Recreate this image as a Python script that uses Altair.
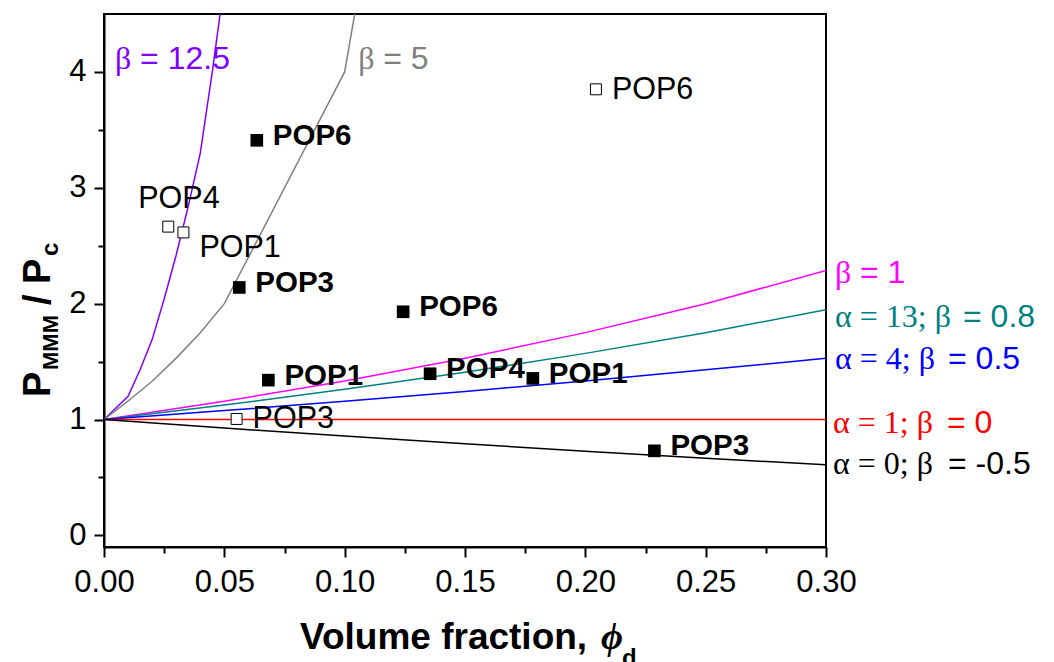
import altair as alt
import pandas as pd

# ---------------- data ----------------
# model curves
x_b125 = [0, 0.01, 0.015, 0.02, 0.025, 0.03, 0.035, 0.04, 0.045, 0.05]
y_b125 = [1, 1.2, 1.43, 1.69, 2.04, 2.42, 2.84, 3.3, 4.0, 4.77]
x_b5 = [0, 0.01, 0.02, 0.03, 0.04, 0.05, 0.10, 0.15]
y_b5 = [1, 1.16, 1.33, 1.53, 1.75, 2.0, 4.0, 10.0]
x_grid = [0, 0.05, 0.10, 0.15, 0.20, 0.25, 0.30]
y_b1 = [1, 1.158, 1.333, 1.529, 1.75, 2.0, 2.286]
y_b08 = [1, 1.125, 1.261, 1.409, 1.571, 1.75, 1.947]
y_b05 = [1, 1.077, 1.158, 1.243, 1.333, 1.429, 1.529]
y_b0 = [1, 1, 1, 1, 1, 1, 1]
y_bm05 = [1, 0.927, 0.857, 0.791, 0.727, 0.667, 0.609]

series_names = ["b12.5", "b5", "b1", "b0.8", "b0.5", "b0", "b-0.5"]
series_colors = ["#8000FF", "#808080", "#FF00FF", "#008080", "#0000FF", "#FF0000", "#000000"]
series_x = [x_b125, x_b5, x_grid, x_grid, x_grid, x_grid, x_grid]
series_y = [y_b125, y_b5, y_b1, y_b08, y_b05, y_b0, y_bm05]

# measured points
filled_x = [0.0635, 0.0562, 0.1243, 0.0683, 0.1355, 0.1782, 0.2287]
filled_y = [3.41, 2.14, 1.93, 1.34, 1.395, 1.355, 0.73]
filled_lab = ["POP6", "POP3", "POP6", "POP1", "POP4", "POP1", "POP3"]
open_x = [0.2044, 0.0267, 0.0330, 0.0551]
open_y = [3.85, 2.665, 2.615, 1.005]
open_lab = ["POP6", "POP4", "POP1", "POP3"]

# curve labels: (serif part, sans part)
right_serif = ["β", "α = 13; β", "α = 4; β", "α = 1; β", "α = 0; β"]
right_sans = ["= 1", "= 0.8", "= 0.5", "= 0", "= -0.5"]
right_series = [2, 3, 4, 5, 6]
top_serif = ["β", "β"]
top_sans = ["= 12.5", "= 5"]
top_series = [0, 1]
top_x = [0.0046, 0.1056]
top_y = [4.025, 4.025]

x_ticks = [round(i * 0.025, 3) for i in range(13)]
y_ticks = [i * 0.5 for i in range(9)]

# ---------------- styles ----------------
right_dx_serif = [9, 9, 9, 7, 7]
right_dx_sans = [34, 137, 122, 121, 122]
right_dy = [12, 17.6, 11, 13, 9]
open_dx = [16, -30, 16, 16]
open_dy = [10, -19, 25, 9]

W, H = 722, 533
SANS = "Liberation Sans"
SERIF = "Liberation Serif"
TICK_FS = 31
POP_FS = 29.5
LAB_SANS_FS = 32
LAB_SERIF_FS = 32

rows = []
for name, xs, ys in zip(series_names, series_x, series_y):
    for i, (xv, yv) in enumerate(zip(xs, ys)):
        rows.append({"series": name, "x": xv, "y": yv, "o": i})
lines_df = pd.DataFrame(rows)

xscale = alt.Scale(domain=[0, 0.30], nice=False, zero=False)
yscale = alt.Scale(domain=[-0.1, 4.5], nice=False, zero=False)

x_axis = alt.Axis(
    values=x_ticks, title=None, grid=False,
    labelExpr="abs(datum.value*20 - round(datum.value*20)) < 1e-6 ? format(datum.value, '.2f') : ''",
    tickSize={"condition": {"test": "abs(datum.value*20 - round(datum.value*20)) < 1e-6", "value": 10}, "value": 6},
    labelFontSize=TICK_FS, labelFont=SANS, labelColor="black", labelPadding=10,
    domainColor="black", domainWidth=2, tickColor="black", tickWidth=2,
    labelFlush=False, labelOverlap=False,
)
y_axis = alt.Axis(
    values=y_ticks, title=None, grid=False,
    labelExpr="abs(datum.value - round(datum.value)) < 1e-6 ? format(datum.value, 'd') : ''",
    tickSize={"condition": {"test": "abs(datum.value - round(datum.value)) < 1e-6", "value": 10}, "value": 6},
    labelFontSize=TICK_FS, labelFont=SANS, labelColor="black", labelPadding=8,
    domainColor="black", domainWidth=2, tickColor="black", tickWidth=2,
    labelFlush=False, labelOverlap=False,
)

lines = alt.Chart(lines_df).mark_line(clip=True, strokeWidth=1.5).encode(
    x=alt.X("x:Q", scale=xscale, axis=x_axis),
    y=alt.Y("y:Q", scale=yscale, axis=y_axis),
    color=alt.Color("series:N", scale=alt.Scale(domain=series_names, range=series_colors), legend=None),
    order="o:Q",
)

fdf = pd.DataFrame({"x": filled_x, "y": filled_y, "lab": filled_lab})
odf = pd.DataFrame({"x": open_x, "y": open_y, "lab": open_lab})

filled_pts = alt.Chart(fdf).mark_square(size=160, color="black", opacity=1).encode(
    x=alt.X("x:Q", scale=xscale), y=alt.Y("y:Q", scale=yscale))
open_pts = alt.Chart(odf).mark_square(size=120, fill="white", stroke="black", strokeWidth=1, opacity=1, filled=True).encode(
    x=alt.X("x:Q", scale=xscale), y=alt.Y("y:Q", scale=yscale))

filled_txt = alt.Chart(fdf).mark_text(
    align="left", baseline="alphabetic", dx=16, dy=4.5, font=SANS, fontSize=POP_FS, fontWeight="bold", color="black"
).encode(x=alt.X("x:Q", scale=xscale), y=alt.Y("y:Q", scale=yscale), text="lab:N")

layers = [lines, filled_pts, open_pts, filled_txt]

for i in range(len(open_x)):
    d = pd.DataFrame({"x": [open_x[i]], "y": [open_y[i]], "lab": [open_lab[i]]})
    layers.append(alt.Chart(d).mark_text(
        align="left", baseline="alphabetic", dx=open_dx[i], dy=open_dy[i], font=SANS, fontSize=POP_FS + 1, color="black"
    ).encode(x=alt.X("x:Q", scale=xscale), y=alt.Y("y:Q", scale=yscale), text="lab:N"))

for i, si in enumerate(right_series):
    d = pd.DataFrame({"x": [series_x[si][-1]], "y": [series_y[si][-1]],
                      "a": [right_serif[i]], "b": [right_sans[i]]})
    col = series_colors[si]
    layers.append(alt.Chart(d).mark_text(
        align="left", baseline="alphabetic", dx=right_dx_serif[i], dy=right_dy[i], font=SERIF,
        fontSize=LAB_SERIF_FS, color=col
    ).encode(x=alt.X("x:Q", scale=xscale), y=alt.Y("y:Q", scale=yscale), text="a:N"))
    layers.append(alt.Chart(d).mark_text(
        align="left", baseline="alphabetic", dx=right_dx_sans[i], dy=right_dy[i], font=SANS,
        fontSize=LAB_SANS_FS, color=col
    ).encode(x=alt.X("x:Q", scale=xscale), y=alt.Y("y:Q", scale=yscale), text="b:N"))

for i, si in enumerate(top_series):
    d = pd.DataFrame({"x": [top_x[i]], "y": [top_y[i]], "a": [top_serif[i]], "b": [top_sans[i]]})
    col = series_colors[si]
    layers.append(alt.Chart(d).mark_text(
        align="left", baseline="alphabetic", dx=0, font=SERIF, fontSize=LAB_SERIF_FS, color=col
    ).encode(x=alt.X("x:Q", scale=xscale), y=alt.Y("y:Q", scale=yscale), text="a:N"))
    layers.append(alt.Chart(d).mark_text(
        align="left", baseline="alphabetic", dx=25, font=SANS, fontSize=LAB_SANS_FS, color=col
    ).encode(x=alt.X("x:Q", scale=xscale), y=alt.Y("y:Q", scale=yscale), text="b:N"))

# axis titles (composite text with subscripts)
def label(text, x, y, size, weight="bold", font=SANS, angle=0, style="normal"):
    return alt.Chart(pd.DataFrame({"t": [text]})).mark_text(
        align="left", baseline="alphabetic", font=font, fontSize=size, fontWeight=weight,
        angle=angle, fontStyle=style, color="black"
    ).encode(x=alt.value(x), y=alt.value(y), text="t:N")

layers += [
    label("Volume fraction,", 196, 635, 37),
    label("ϕ", 497, 635, 38, font=SERIF, style="italic"),
    label("d", 518, 652, 24),
    label("P", -54, 383, 38, angle=270),
    label("MMM", -46, 356, 22, angle=270),
    label("/", -54, 291, 38, angle=270),
    label("P", -54, 270, 38, angle=270),
    label("c", -46, 242, 24, angle=270),
]

chart = alt.layer(*layers).properties(
    width=W, height=H,
    background="white",
    autosize=alt.AutoSizeParams(type="none"),
    padding={"left": 104, "top": 14, "right": 1054 - 104 - W, "bottom": 662 - 14 - H},
).configure_view(stroke="black", strokeWidth=2, fill=None)

chart.save("out.html", embed_options={"renderer": "svg", "actions": False})
